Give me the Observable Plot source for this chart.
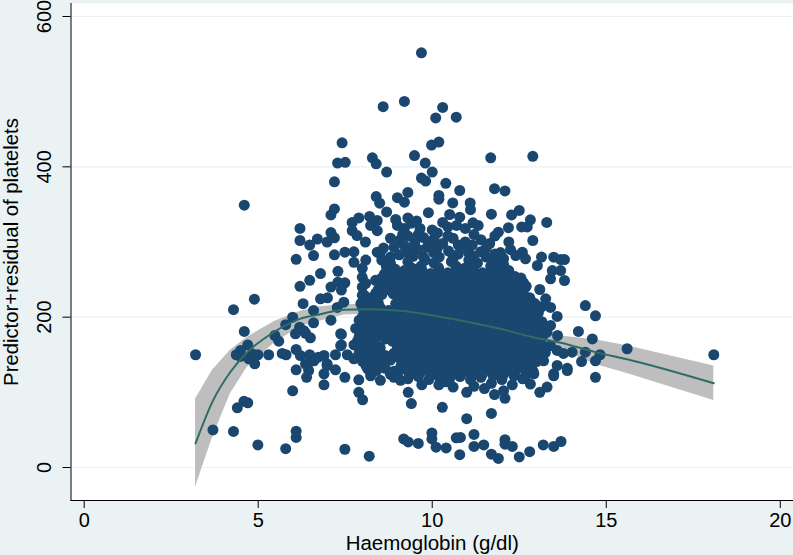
<!DOCTYPE html>
<html>
<head>
<meta charset="utf-8">
<script src="https://cdn.jsdelivr.net/npm/d3@7"></script>
<script src="https://cdn.jsdelivr.net/npm/@observablehq/plot@0.6"></script>
<style>html,body{margin:0;padding:0;background:#EAF2F3;overflow:hidden}</style>
</head>
<body>
<div id="chart"></div>
<script>
const xTicks = [0,5,10,15,20];
const yTicks = [0,200,400,600];
const xTitle = "Haemoglobin (g/dl)";
const yTitle = "Predictor+residual of platelets";

const fitX  = [3.2,3.68,4.2,4.68,5.45,6.22,6.79,7.46,8.13,9.09,10.05,11.0,11.96,12.92,13.69,14.69,15.6,18.09];
const fitY  = [32,87,127,153,180,198,204,210,210.6,208.5,202,194,184.5,173,166,153.5,144,112];
const ciHigh= [91,129,156,173,194,208,214,217,217,214,207,200,191,181,175,170,162,135];
const ciLow = [-26,39,98,133,165,188,195,203,204,203,197,188,178,165,157,137,125,89];

const outliersTop = [[9.69,551.7],[8.59,480],[9.2,487],[10.3,479],[10.1,465],[10.69,466],[7.41,432],[10.19,433],[9.98,429],
[7.28,405],[7.5,406],[7.19,380],[8.28,412],[8.39,404],[8.69,393],[9.49,415],[9.8,405],[10,393],[9.69,385],[9.81,381],[10.39,378],[10.79,368.5],
[10.19,362],[10.19,357],[10.59,352],[11.09,352],[11.1,343],[11.68,412],[12.89,414],[11.79,371],[12.09,368],[11.7,337],[13.29,326],[12.5,342],[12.28,336],
[12.82,329.5],[12.57,320],[12.73,320],[12.89,302],[12.19,319],[11.9,313],[11.17,325.5],[11.32,322],[9.89,339],[9.3,366],[9,359],[8.39,360.5],[8.49,351.6],[9.2,353],[8.69,340],
[7.19,344],[7.09,336],[10.5,336.6],[10.79,333],[7.7,326],[7.89,332],[8.2,334],[8.42,328.6],[7.7,315],[7.84,308.6],[8.23,322],[8.42,315],[8.08,300],[8.42,286.4],[8.95,330],[9.3,332],[9.55,328],[4.6,349]];
const outliersLow = [[3.2,150],[3.7,50],[4.29,48],[4.99,30],[5.79,25],[6.09,48.3],[6.09,40],[7.49,24.3],[8.19,15],[4.4,79.4],[4.59,88],[4.7,86],[5.99,102],[6.89,110],[7.89,100],[8,90],
[9.18,38],[9.31,34],[9.6,32],[9.99,46],[9.99,38],[10.11,27],[10.4,26],[10.69,39.5],[10.81,40],[10.79,17],[11.2,44],[11.2,28],[11.48,30],[11.7,17.7],[11.9,12],[12.09,37],[12.09,31],[12.3,28],[12.5,14],[12.8,21],[13.19,30],[13.49,28],[13.7,34.6],
[10.99,65],[10.29,80],[9.4,85],[11.7,72],[9.31,100],[8.51,116],[8.23,122],[9.09,116],[8.8,124],[10.19,110],[10.6,107],[10.99,100],[11.79,97],[12.09,92],[12.82,111],[13.09,100],[13.3,107],[13.49,122],[13.88,129],[12.05,102]];
const leftSide = [[6.2,318],[6.2,302],[6.7,304],[6.48,296],[7.09,312.6],[7.19,305.5],[6.98,300],[6.59,282],[6.09,277],[7.19,283],[7.49,286.4],[7.75,287],[7.75,273],[8.09,276],[6.79,258],[6.48,249],[6.2,241],[7.29,261],
[7.09,240],[7.29,246.5],[7.49,245.7],[7.39,236],[6.79,224.4],[6.99,225.7],[4.89,224],[4.29,210],[6.29,218],[6.59,209],[6.59,192.5],[5.99,200],[5.79,190],[7.09,196],[4.6,181],[6.19,186.6],[7.27,213],[7.46,220],
[7.99,265],[7.99,253],[7.99,240],[7.99,229],[7.99,220],[8.37,249],[8.42,231],[8.09,245],[4.7,163],[4.37,150],[4.49,155.6],[4.49,147.7],[4.73,144.6],[4.9,138],[4.83,151],[4.99,150],[5.3,150],[5.69,151.7],[5.8,150],[5.48,175.6],[5.59,168],
[6.07,177.8],[6.36,178.6],[6.5,172.5],[6.09,157],[6.21,149],[6.48,150],[6.6,142],[6.36,138],[6.09,130],[6.39,120],[6.45,129],[6.89,124.6],[6.89,149],[6.73,146.7],[6.98,138],[7.22,130],[7.49,120],[7.89,116.6],[7.39,163],[7.39,177],[7.22,150],[7.56,150],[7.75,144.6],[6.31,182],[7.37,178],[7.37,162],[6.41,135.7],[6.98,135.7]];
const rightSide = [[12.59,286.4],[12.68,277.6],[13.14,280],[13.02,268.7],[13.49,279.8],[13.69,276.7],[13.8,276.7],[13.45,262],[13.4,251],[13.69,262],[13.8,248.8],[13.09,236.8],[13.26,224.4],[13.4,213],[13.59,201],[14.4,215.5],[14.69,201.8],[14.2,181],[14.6,171],[13.6,175.6],[13.4,189],[15.6,158],[14.82,150],[14.69,142],[14.4,153.4],[14.29,141],[14.69,120],[13.88,132],[14.02,153.4],[13.77,151.7],[13.4,162],[13.59,155.7],[13.49,124.6],[13.2,142],[13.59,135.7],[12.92,124.6],[18.09,150]];
const upperBand = [[9.0,322],[9.2,318],[9.4,325],[9.65,318],[10.0,316],[10.3,326],[10.45,320],[10.7,322],[10.95,318],[8.8,305],[9.05,302],[9.3,308],[9.5,300],[9.75,306],[10.05,304],[10.3,298],[10.6,305],[10.95,300],[11.15,296],[11.4,303],[11.65,298],[11.8,308],[12.2,300],
[8.6,292],[9.29,286],[9.6,290],[9.85,293],[10.04,286],[10.47,288],[10.75,284],[11.05,286],[11.39,287],[11.96,286],[12.25,290],[8.8,280],[9.05,283],[9.2,295],[9.45,281],[9.75,280],[10.2,280],[10.6,278],[10.95,292],[11.2,281],[11.55,280],[11.8,284],[12.05,278],[12.4,282],[8.5,285],
[9.15,310],[9.6,310],[10.15,312],[9.9,298],[10.15,292],[10.75,296],[11.2,310],[11.55,292],[9.4,292],[8.9,293],[10.45,308]];
const core1 = [[8.55,276],[8.8,272],[9.3,274],[9.8,276],[10.05,272],[10.55,274],[11.05,276],[11.3,272],[11.8,274],[12.05,270],
[8.7,263],[8.95,258],[9.2,262],[9.45,259],[9.7,263],[9.95,258],[10.2,262],[10.45,259],[10.7,263],[10.95,258],[11.2,262],[11.45,259],[11.7,263],[11.95,258],[12.2,262],
[8.55,252],[8.8,247],[9.05,251],[9.3,248],[9.55,252],[9.8,247],[10.05,251],[10.3,248],[10.55,252],[10.8,247],[11.05,251],[11.3,248],[11.55,252],[11.8,247],[12.05,251],[12.3,248],[12.55,252],
[8.45,237],[8.7,241],[8.95,236],[9.2,240],[9.45,237],[9.7,241],[9.95,236],[10.2,240],[10.45,237],[10.7,241],[10.95,236],[11.2,240],[11.45,237],[11.7,241],[11.95,236],[12.2,240],[12.45,237],[12.7,241],
[8.05,229],[8.3,227],[8.55,230],[9.05,229],[9.3,227],[9.55,230],[9.8,226],[10.05,229],[10.3,227],[10.55,230],[10.8,226],[11.05,229],[11.3,227],[11.55,230],[11.8,226],[12.05,229],[12.3,227],[12.55,230],[12.8,226]];
const core2 = [[7.95,218],[8.2,216],[8.45,219],[8.95,218],[9.2,216],[9.45,219],[9.7,215],[9.95,218],[10.2,216],[10.45,219],[10.7,215],[10.95,218],[11.2,216],[11.45,219],[11.7,215],[11.95,218],[12.2,216],[12.45,219],[12.7,215],[12.95,218],[13.15,214],
[8.05,207],[8.3,205],[8.55,208],[8.8,204],[9.05,207],[9.3,205],[9.55,208],[9.8,204],[10.05,207],[10.3,205],[10.55,208],[10.8,204],[11.05,207],[11.3,205],[11.55,208],[11.8,204],[12.05,207],[12.3,205],[12.55,208],[12.8,204],[13.05,206],
[7.9,196],[8.15,194],[8.4,197],[8.65,193],[8.9,196],[9.15,194],[9.4,197],[9.65,193],[9.9,196],[10.15,194],[10.4,197],[10.65,193],[10.9,196],[11.15,194],[11.4,197],[11.65,193],[11.9,196],[12.15,194],[12.4,197],[12.65,193],[12.9,196],[13.15,194],
[7.8,185],[8.05,183],[8.3,186],[8.55,182],[8.8,185],[9.05,183],[9.3,186],[9.55,182],[9.8,185],[10.05,183],[10.3,186],[10.55,182],[10.8,185],[11.05,183],[11.3,186],[11.55,182],[11.8,185],[12.05,183],[12.3,186],[12.55,182],[12.8,185],[13.05,183],[13.3,180],
[7.9,174],[8.15,172],[8.4,175],[8.65,171],[8.9,174],[9.15,172],[9.4,175],[9.65,171],[9.9,174],[10.15,172],[10.4,175],[10.65,171],[10.9,174],[11.15,172],[11.4,175],[11.65,171],[11.9,174],[12.15,172],[12.4,175],[12.65,171],[12.9,174],[13.15,172]];
const core3 = [[7.75,163],[8.0,161],[8.25,164],[8.5,160],[9.0,161],[9.25,164],[9.5,160],[9.75,163],[10.0,161],[10.25,164],[10.5,160],[10.75,163],[11.0,161],[11.25,164],[11.5,160],[11.75,163],[12.0,161],[12.25,164],[12.5,160],[12.75,163],[13.0,161],[13.25,160],
[7.9,152],[8.15,150],[8.4,153],[8.65,149],[8.9,152],[9.15,150],[9.4,153],[9.65,149],[9.9,152],[10.15,150],[10.4,153],[10.65,149],[10.9,152],[11.15,150],[11.4,153],[11.65,149],[11.9,152],[12.15,150],[12.4,153],[12.65,149],[12.9,152],[13.15,150],
[8.0,141],[8.25,139],[8.5,142],[9.25,139],[9.5,142],[9.75,138],[10.0,141],[10.25,139],[10.5,142],[10.75,138],[11.0,141],[11.25,139],[11.5,142],[11.75,138],[12.0,141],[12.25,139],[12.5,142],[12.75,138],[13.0,141],
[8.15,131],[8.4,129],[8.65,132],[8.9,128],[9.15,131],[9.4,129],[9.65,132],[9.9,128],[10.15,131],[10.4,129],[10.65,132],[10.9,128],[11.15,131],[11.4,129],[11.65,132],[11.9,128],[12.15,131],[12.4,129],[12.65,132],[12.9,128],
[8.9,120],[9.3,118],[9.6,121],[9.9,117],[10.2,120],[10.5,118],[10.8,121],[11.1,117],[11.4,120],[11.7,112],[12.0,117],[12.3,110],[12.6,118],[9.7,110],[10.4,114],[11.2,108],[11.5,105]];
const fillUpper = [[8.68,268],[8.93,264],[9.43,265],[9.68,268],[10.18,266],[10.68,268],[10.93,265],[11.18,268],[11.68,268],[11.93,265],
[8.62,257],[8.88,253],[9.13,256],[9.38,254],[9.62,257],[9.88,253],[10.13,256],[10.38,254],[10.62,257],[10.88,253],[11.13,256],[11.38,254],[11.62,257],[11.88,253],[12.13,256],[12.38,254],
[8.62,246],[8.88,242],[9.13,245],[9.38,243],[9.62,246],[9.88,242],[10.13,245],[10.38,243],[10.62,246],[10.88,242],[11.13,245],[11.38,243],[11.62,246],[11.88,242],[12.13,245],[12.38,243],[12.62,246],
[8.38,232],[8.62,235],[8.88,231],[9.13,234],[9.38,232],[9.62,235],[9.88,231],[10.13,234],[10.38,232],[10.62,235],[10.88,231],[11.13,234],[11.38,232],[11.62,235],[11.88,231],[12.13,234],[12.38,232],[12.62,235],
[8.13,223],[8.38,221],[9.13,223],[9.38,221],[9.62,224],[9.88,220],[10.13,223],[10.38,221],[10.62,224],[10.88,220],[11.13,223],[11.38,221],[11.62,224],[11.88,220],[12.13,223],[12.38,221],[12.62,224],[12.88,220]];
const fillLower = [[8.0,212],[8.25,210],[8.5,213],[8.75,209],[9.0,212],[9.25,210],[9.5,213],[9.75,209],[10.0,212],[10.25,210],[10.5,213],[10.75,209],[11.0,212],[11.25,210],[11.5,213],[11.75,209],[12.0,212],[12.25,210],[12.5,213],[12.75,209],[13.0,212],
[8.0,201],[8.25,199],[8.5,202],[8.75,198],[9.0,201],[9.25,199],[9.5,202],[9.75,198],[10.0,201],[10.25,199],[10.5,202],[10.75,198],[11.0,201],[11.25,199],[11.5,202],[11.75,198],[12.0,201],[12.25,199],[12.5,202],[12.75,198],[13.0,201],
[7.95,190],[8.2,188],[8.45,191],[8.7,187],[8.95,190],[9.2,188],[9.45,191],[9.7,187],[9.95,190],[10.2,188],[10.45,191],[10.7,187],[10.95,190],[11.2,188],[11.45,191],[11.7,187],[11.95,190],[12.2,188],[12.45,191],[12.7,187],[12.95,190],[13.2,188],
[7.95,179],[8.2,177],[8.45,180],[8.7,176],[8.95,179],[9.2,177],[9.45,180],[9.7,176],[9.95,179],[10.2,177],[10.45,180],[10.7,176],[10.95,179],[11.2,177],[11.45,180],[11.7,176],[11.95,179],[12.2,177],[12.45,180],[12.7,176],[12.95,179],[13.2,177],
[7.85,168],[8.1,166],[8.35,169],[8.85,168],[9.1,166],[9.35,169],[9.6,165],[9.85,168],[10.1,166],[10.35,169],[10.6,165],[10.85,168],[11.1,166],[11.35,169],[11.6,165],[11.85,168],[12.1,166],[12.35,169],[12.6,165],[12.85,168],[13.1,166],
[8.0,157],[8.25,155],[8.5,158],[9.0,157],[9.25,155],[9.5,158],[9.75,154],[10.0,157],[10.25,155],[10.5,158],[10.75,154],[11.0,157],[11.25,155],[11.5,158],[11.75,154],[12.0,157],[12.25,155],[12.5,158],[12.75,154],[13.0,157],[13.25,153],
[8.05,146],[8.3,144],[8.55,147],[8.8,143],[9.05,146],[9.3,144],[9.55,147],[9.8,143],[10.05,146],[10.3,144],[10.55,147],[10.8,143],[11.05,146],[11.3,144],[11.55,147],[11.8,143],[12.05,146],[12.3,144],[12.55,147],[12.8,143],[13.05,146],
[8.1,135],[8.35,134],[8.6,136],[9.1,135],[9.35,134],[9.6,136],[9.85,133],[10.1,135],[10.35,134],[10.6,136],[10.85,133],[11.1,135],[11.35,134],[11.6,136],[11.85,133],[12.1,135],[12.35,134],[12.6,136],[12.85,133],
[9.0,125],[9.35,124],[9.65,126],[9.95,123],[10.25,125],[10.55,124],[10.85,126],[11.15,123],[11.45,125],[11.75,122],[12.05,124],[12.35,122],[12.7,124]];

const points = [...outliersTop, ...outliersLow, ...leftSide, ...rightSide, ...upperBand, ...core1, ...core2, ...core3, ...fillUpper, ...fillLower];
const fit = fitX.map((x,i)=>({x, y:fitY[i], hi:ciHigh[i], lo:ciLow[i]}));

const font = "'Liberation Sans', Arial, sans-serif";
const chart = Plot.plot({
  width:793, height:555,
  marginLeft:70.5, marginRight:0, marginTop:3, marginBottom:55,
  style:{background:"transparent", fontFamily:font, fontSize:"20px", color:"black"},
  x:{domain:[-0.379,20.38]},
  y:{domain:[-43.9,617.3]},
  marks:[
    Plot.frame({fill:"white", stroke:"none"}),
    Plot.gridY(yTicks,{stroke:"#EAF2F3", strokeOpacity:1, strokeWidth:1.2}),
    Plot.areaY(fit,{x:"x", y1:"lo", y2:"hi", fill:"#BEBEBE", curve:"linear"}),
    Plot.dot(points,{x:d=>d[0], y:d=>d[1], r:5.5, fill:"#1A476F", stroke:"none"}),
    Plot.line(fit,{x:"x", y:"y", stroke:"#2D6D66", strokeWidth:2, curve:"monotone-x"}),
    Plot.frame({anchor:"left", stroke:"black", strokeOpacity:1}),
    Plot.frame({anchor:"bottom", stroke:"black", strokeOpacity:1}),
    Plot.axisX(xTicks,{anchor:"bottom", tickSize:8, tickPadding:4, label:null, stroke:"black", fill:"black"}),
    Plot.axisY(yTicks,{anchor:"left", tickSize:8, tickPadding:12, tickRotate:-90, label:null, stroke:"black", fill:"black", textAnchor:"middle"}),
    Plot.text([xTitle],{frameAnchor:"bottom", dy:49, text:d=>d, fill:"black", fontSize:20.5}),
    Plot.text([yTitle],{frameAnchor:"left", textAnchor:"middle", dx:-60, rotate:-90, text:d=>d, fill:"black", fontSize:20.3})
  ]
});
document.getElementById("chart").appendChild(chart);
</script>
</body>
</html>
